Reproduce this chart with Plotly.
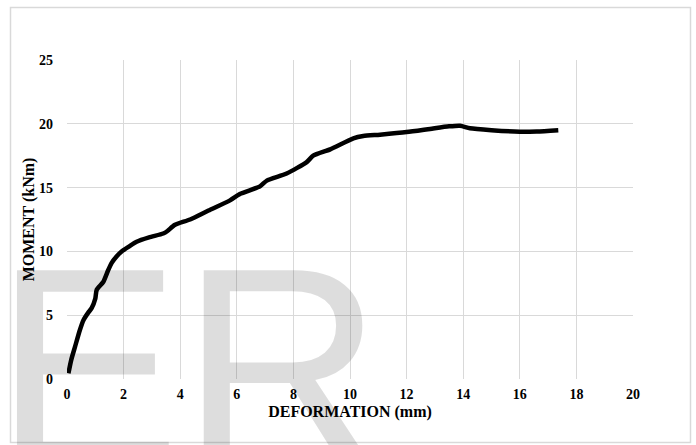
import plotly.graph_objects as go

# Data
deformation_mm = [0.05, 0.15, 0.28, 0.45, 0.58, 0.75, 0.87, 1.0, 1.05, 1.28, 1.45, 1.58, 1.75,
                  1.93, 2.2, 2.46, 2.9, 3.4, 3.55, 3.8, 4.35, 5.0, 5.76, 6.11, 6.82, 7.06, 7.76,
                  8.47, 8.7, 9.3, 10.12, 10.47, 11.06, 12.0, 12.83, 13.5, 13.89, 14.24, 15.0,
                  16.0, 16.6, 17.36]
moment_knm = [0.45, 1.5, 2.5, 3.8, 4.6, 5.2, 5.55, 6.3, 7.0, 7.6, 8.5, 9.1, 9.6,
              10.0, 10.4, 10.76, 11.1, 11.4, 11.6, 12.07, 12.5, 13.2, 14.0, 14.5, 15.1, 15.55, 16.1,
              17.0, 17.5, 18.0, 18.86, 19.04, 19.15, 19.35, 19.6, 19.8, 19.85, 19.65, 19.5,
              19.38, 19.4, 19.5]
x_ticks = [0, 2, 4, 6, 8, 10, 12, 14, 16, 18, 20]
y_ticks = [0, 5, 10, 15, 20, 25]

serif = "Liberation Serif, Times New Roman, serif"
grid = "#d9d9d9"

fig = go.Figure()
fig.add_trace(go.Scatter(
    x=deformation_mm, y=moment_knm, mode="lines",
    line=dict(color="black", width=4.5, shape="spline", smoothing=0.6),
    hoverinfo="skip", showlegend=False,
))

W, H = 696, 445
L, R, T, B = 67, 63, 60, 66
pw, ph = W - L - R, H - T - B

def px2paper_x(px):
    return (px - L) / pw

def px2paper_y(py):
    return (H - B - py) / ph

fig.update_layout(
    width=W, height=H,
    margin=dict(l=L, r=R, t=T, b=B),
    paper_bgcolor="white", plot_bgcolor="white",
    xaxis=dict(
        range=[0, 20], tickvals=x_ticks, showgrid=True, gridcolor=grid, gridwidth=1,
        zeroline=False, showline=False, ticks="",
        tickfont=dict(family=serif, size=14, color="black", weight="bold"),
        ticklabelstandoff=5,
        title=dict(text="<b>DEFORMATION (mm)</b>", font=dict(family=serif, size=16, color="black"),
                   standoff=4),
    ),
    yaxis=dict(
        range=[0, 25], tickvals=y_ticks, showgrid=True, gridcolor=grid, gridwidth=1,
        zeroline=False, showline=False, ticks="",
        tickfont=dict(family=serif, size=14, color="black", weight="bold"),
        ticklabelstandoff=13,
        title=dict(text="<b>MOMENT (kNm)</b>", font=dict(family=serif, size=16, color="black"),
                   standoff=0),
    ),
    shapes=[dict(
        type="rect", xref="paper", yref="paper",
        x0=px2paper_x(10.5), x1=px2paper_x(690.5), y0=px2paper_y(442.5), y1=px2paper_y(7.5),
        line=dict(color="#d9d9d9", width=1.5), fillcolor="rgba(0,0,0,0)", layer="below",
    )],
    annotations=[dict(
        text="ER", xref="paper", yref="paper",
        x=px2paper_x(-8), y=px2paper_y(208), xanchor="left", yanchor="top",
        showarrow=False,
        font=dict(family="Liberation Sans, Arial, sans-serif", size=280, color="rgba(0,0,0,0.135)"),
    )],
)

fig.write_html("out.html", config={"displayModeBar": False},
               post_script="document.body.style.margin='0';")
